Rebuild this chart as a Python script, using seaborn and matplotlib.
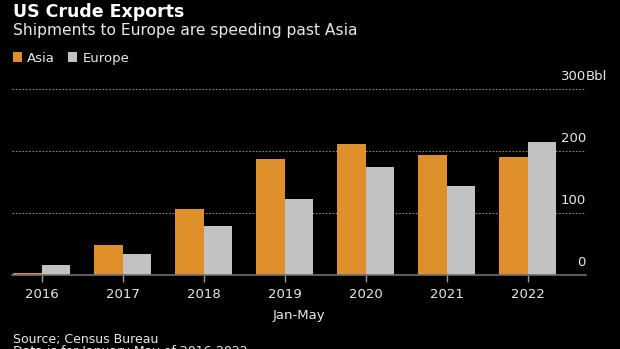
import matplotlib
matplotlib.use("Agg")
import matplotlib.pyplot as plt
import seaborn as sns
import pandas as pd
from matplotlib.patches import Patch
import matplotlib.transforms as mtrans

years = ["2016", "2017", "2018", "2019", "2020", "2021", "2022"]
asia = [3.5, 49, 107, 187, 211, 193, 191]
europe = [16, 34, 79, 123, 175, 143, 214]
series = ["Asia", "Europe"]
colors = ["#df8f2a", "#c2c2c2"]
y_ticks = [0, 100, 200, 300]
y_labels = ["0", "100", "200", "300"]

df = pd.DataFrame({
    "year": years * 2,
    "value": asia + europe,
    "region": [series[0]] * len(years) + [series[1]] * len(years),
})

sns.set_theme(style="dark")
plt.rcParams["font.family"] = ["DejaVu Sans"]
bg = "#000000"
fg = "#e8e8e8"

fig = plt.figure(figsize=(6.2, 3.49), dpi=100, facecolor=bg)
ax = fig.add_axes([12/620, 1-275/349, (586-12)/620, (275-89)/349])
ax.set_facecolor(bg)

sns.barplot(data=df, x="year", y="value", hue="region", palette=colors,
            width=0.7, saturation=1, ax=ax, legend=False, linewidth=0)

ax.set_xlim(-0.367, 6.72)
ax.set_ylim(0, 300)
for s in ["top", "right", "left"]:
    ax.spines[s].set_visible(False)
ax.spines["bottom"].set_color("#707070")
ax.spines["bottom"].set_linewidth(1.2)
ax.set_yticks([])
ax.tick_params(axis="x", colors="#9a9a9a", length=5, width=1, labelcolor=fg,
               labelsize=9.5, pad=4, bottom=True)
ax.grid(False)
for t in y_ticks[1:]:
    ax.axhline(t, color="#8a8a8a", lw=0.8, ls=(0, (1.5, 1.5)), zorder=0)
ax.set_xlabel("Jan-May", color=fg, fontsize=9.5, labelpad=6)
ax.set_ylabel("")

trans = mtrans.blended_transform_factory(ax.transAxes, ax.transData)
off = mtrans.offset_copy(trans, fig=fig, x=0, y=6, units="dots")
for t, lab in zip(y_ticks, y_labels):
    ax.text(1.0, t, lab, transform=off, ha="right", va="bottom", color=fg, fontsize=9.5)
    if t == 300:
        ax.text(1.0, t, "Bbl", transform=off, ha="left", va="bottom", color=fg, fontsize=9.5)

fig.text(13/620, 1-3/349, "US Crude Exports", color="#ffffff", fontsize=12.5,
         fontweight="bold", ha="left", va="top")
fig.text(13/620, 1-23/349, "Shipments to Europe are speeding past Asia", color=fg,
         fontsize=11.2, ha="left", va="top")

handles = [Patch(facecolor=c, edgecolor="none") for c in colors]
fig.legend(handles, series, loc="upper left", bbox_to_anchor=(10/620, 1-49/349),
           ncol=2, frameon=False, handlelength=0.7, handleheight=0.7,
           handletextpad=0.4, columnspacing=1.0, labelcolor=fg, fontsize=9.5,
           borderaxespad=0, borderpad=0.2)

fig.text(13/620, 1-333/349, "Source; Census Bureau", color=fg, fontsize=9,
         ha="left", va="top")
fig.text(13/620, 1-345/349, "Data is for January-May of 2016-2022", color=fg, fontsize=9,
         ha="left", va="top")

fig.savefig("out.png", dpi=100, facecolor=bg)
